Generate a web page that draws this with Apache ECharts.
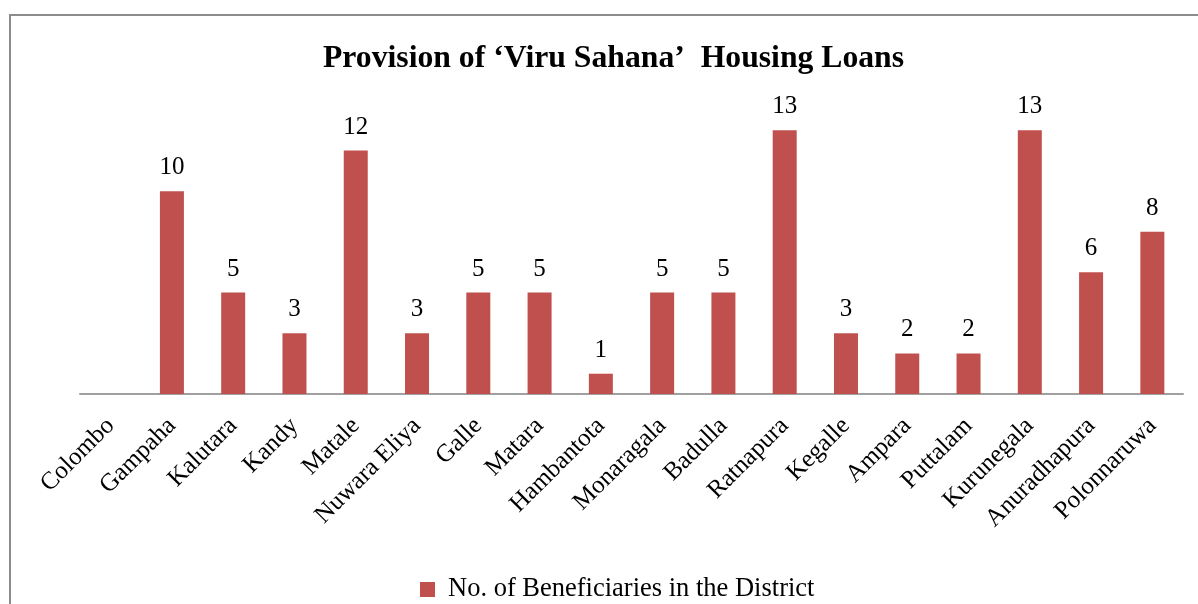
<!DOCTYPE html>
<html>
<head>
<meta charset="utf-8">
<script src="https://cdn.jsdelivr.net/npm/echarts@6/dist/echarts.min.js"></script>
<style>
  html, body { margin: 0; padding: 0; background: #fff; }
  #chart { position: absolute; left: 0; top: 0; width: 1198px; height: 604px; }
  .frame { position: absolute; left: 9px; top: 14px; right: -10px; bottom: -10px;
    border-top: 2px solid #8c8c8c; border-left: 2px solid #8c8c8c; pointer-events: none; }
</style>
</head>
<body>
<div id="chart"></div>
<div class="frame"></div>
<script>
const districts = ['Colombo', 'Gampaha', 'Kalutara', 'Kandy', 'Matale', 'Nuwara Eliya', 'Galle', 'Matara',
  'Hambantota', 'Monaragala', 'Badulla', 'Ratnapura', 'Kegalle', 'Ampara', 'Puttalam', 'Kurunegala',
  'Anuradhapura', 'Polonnaruwa']
const beneficiaries = [0, 10, 5, 3, 12, 3, 5, 5, 1, 5, 5, 13, 3, 2, 2, 13, 6, 8]

const font = '"Liberation Serif", "Times New Roman", serif'
const chart = echarts.init(document.getElementById('chart'))

chart.setOption({
  backgroundColor: '#fff',
  animation: false,
  title: {
    text: 'Provision of \u2018Viru Sahana\u2019  Housing Loans',
    left: 318, top: 38,
    textStyle: { fontFamily: font, fontSize: 31.7, fontWeight: 'bold', color: '#000' }
  },
  legend: {
    bottom: -4, left: 415,
    icon: 'rect', itemWidth: 15, itemHeight: 15, itemGap: 13,
    textStyle: { fontFamily: font, fontSize: 26.5, color: '#000', padding: [0, 0, 0, 8] }
  },
  grid: { left: 80, right: 15, top: 110, bottom: 210 },
  xAxis: {
    type: 'category',
    data: districts,
    axisLine: { lineStyle: { color: '#a0a0a0', width: 2 } },
    axisTick: { show: false },
    axisLabel: { rotate: 45, interval: 0, margin: 28, fontFamily: font, fontSize: 25, color: '#000' }
  },
  yAxis: { type: 'value', min: 0, max: 14, show: false },
  series: [{
    name: 'No. of Beneficiaries in the District',
    type: 'bar',
    data: beneficiaries,
    barWidth: 24,
    itemStyle: { color: '#c0504d' },
    label: {
      show: true, position: 'top', distance: 11,
      fontFamily: font, fontSize: 25, color: '#000',
      formatter: p => (p.value ? p.value : '')
    }
  }]
})
</script>
</body>
</html>
